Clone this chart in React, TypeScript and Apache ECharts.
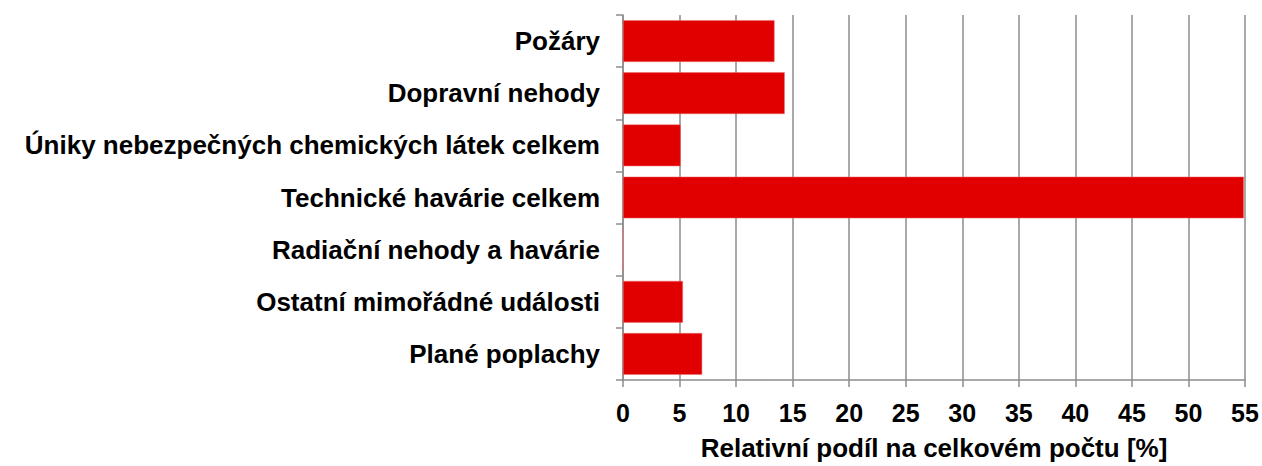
import React, { useEffect, useRef } from "react";
import * as echarts from "echarts";

const categories = [
  "Požáry",
  "Dopravní nehody",
  "Úniky nebezpečných chemických látek celkem",
  "Technické havárie celkem",
  "Radiační nehody a havárie",
  "Ostatní mimořádné události",
  "Plané poplachy",
];
const values = [13.4, 14.3, 5.1, 54.9, 0, 5.3, 7.0];
const axisTitle = "Relativní podíl na celkovém počtu [%]";

export default function App() {
  const ref = useRef<HTMLDivElement>(null);
  useEffect(() => {
    const chart = echarts.init(ref.current!, null, { renderer: "svg" });
    const gray = "#8c8c8c";
    chart.setOption({
      animation: false,
      backgroundColor: "#ffffff",
      textStyle: { fontFamily: "Liberation Sans, Arial, sans-serif" },
      grid: { left: 623, right: 17, top: 15, bottom: 84, containLabel: false },
      xAxis: {
        type: "value",
        min: 0,
        max: 55,
        interval: 5,
        name: axisTitle,
        nameLocation: "middle",
        nameGap: 55,
        nameTextStyle: { fontSize: 26, fontWeight: "bold", color: "#000" },
        axisLine: { show: true, lineStyle: { color: gray, width: 1.5 } },
        axisTick: { show: true, length: 7, lineStyle: { color: gray, width: 1.5 } },
        axisLabel: { fontSize: 25, fontWeight: "bold", color: "#000", margin: 20 },
        splitLine: { show: true, lineStyle: { color: gray, width: 1.5 } },
      },
      yAxis: {
        type: "category",
        data: categories,
        inverse: true,
        axisLine: { show: true, lineStyle: { color: gray, width: 1.5 } },
        axisTick: { show: true, length: 7, lineStyle: { color: gray, width: 1.5 } },
        axisLabel: { fontSize: 26, fontWeight: "bold", color: "#000", margin: 23 },
        splitLine: { show: false },
      },
      series: [
        {
          type: "bar",
          data: values,
          barCategoryGap: "20%",
          itemStyle: { color: "#e00000", borderColor: "#f07070", borderWidth: 0.5 },
        },
      ],
    });
    return () => chart.dispose();
  }, []);
  return <div ref={ref} style={{ width: 1262, height: 466, position: "absolute", left: 0, top: 0 }} />;
}
